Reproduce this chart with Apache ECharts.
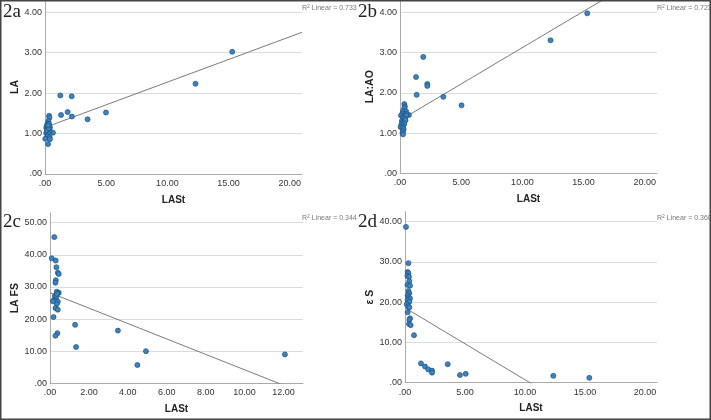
<!DOCTYPE html>
<html>
<head>
<meta charset="utf-8">
<script src="https://cdn.jsdelivr.net/npm/echarts@6/dist/echarts.min.js"></script>
<style>
  html, body { margin: 0; padding: 0; background: #fff; }
  #scatter { width: 711px; height: 420px; }
</style>
</head>
<body>
<div id="scatter"></div>
<script>
// 2a: LASt vs LA
var lastA = [15.3, 12.3, 1.25, 2.18, 1.31, 1.85, 2.2, 3.48, 4.98, 0.65,
  0.33, 0.36, 0.28, 0.2, 0.33, 0.15, 0.28, 0.4, 0.1, 0.2, 0.38, 0.2, 0.33, 0.1, 0.25,
  0.2, 0.38, 0.02, 0.4, 0.25, 0.15, 0.3, 0.25];
var laA = [3.02, 2.23, 1.94, 1.92, 1.46, 1.53, 1.42, 1.35, 1.52, 1.02,
  1.44, 1.39, 1.31, 1.25, 1.24, 1.19, 1.18, 1.16, 1.14, 1.12, 1.10, 1.06, 1.04, 1.01, 1.0,
  0.93, 0.91, 0.87, 0.86, 0.74, 1.08, 1.13, 1.2];

// 2b: LASt vs LA:AO
var lastB = [15.3, 12.3, 1.9, 1.31, 2.23, 2.23, 1.36, 3.54, 5.03, 0.73,
  0.35, 0.4, 0.35, 0.25, 0.5, 0.2, 0.4, 0.55, 0.08, 0.25, 0.45, 0.5, 0.25, 0.38, 0.15,
  0.3, 0.45, 0.2, 0.35, 0.1, 0.25, 0.05, 0.2, 0.3, 0.25, 0.2, 0.25];
var laAoB = [3.97, 3.30, 2.89, 2.39, 2.22, 2.17, 1.95, 1.90, 1.69, 1.45,
  1.72, 1.66, 1.62, 1.55, 1.54, 1.49, 1.48, 1.47, 1.44, 1.42, 1.42, 1.44, 1.37, 1.36, 1.30,
  1.29, 1.32, 1.25, 1.23, 1.20, 1.17, 1.15, 1.13, 1.10, 1.05, 1.0, 0.97];

// 2c: LASt vs LA FS
var lastC = [0.22, 0.09, 0.29, 0.33, 0.4, 0.45, 0.3, 0.28, 0.35, 0.45, 0.4, 0.25, 0.32,
  0.2, 0.28, 0.4, 0.35, 0.28, 0.4, 0.18, 0.38, 0.28, 0.15, 0.35,
  1.29, 1.34, 3.49, 4.49, 4.93, 12.07];
var laFsC = [45.5, 38.9, 38.2, 36.1, 34.4, 34.0, 32.1, 31.3, 28.5, 28.2, 28.0, 27.2, 26.8,
  25.9, 25.7, 25.4, 24.7, 23.4, 22.9, 20.6, 15.6, 14.8, 25.5, 27.8,
  18.2, 11.3, 16.4, 5.7, 10.0, 9.0];

// 2d: LASt vs ε S
var lastD = [0.08, 0.28, 0.22, 0.28, 0.2, 0.33, 0.36, 0.2, 0.42, 0.28, 0.36, 0.22, 0.28,
  0.42, 0.22, 0.36, 0.14, 0.28, 0.36, 0.22, 0.42, 0.36, 0.33, 0.47, 0.75,
  1.33, 1.67, 1.94, 2.25, 2.25, 3.56, 4.58, 5.06, 12.36, 15.36];
var epsSD = [38.7, 29.7, 27.5, 27.2, 26.5, 26.3, 25.2, 24.3, 24.1, 22.8, 22.2, 21.7, 21.2,
  20.9, 20.5, 20.1, 19.5, 19.0, 18.7, 17.5, 16.0, 15.6, 14.6, 14.3, 11.8,
  4.8, 4.0, 3.3, 3.0, 2.5, 4.6, 1.9, 2.2, 1.7, 1.2];

// linear fit lines [intercept, slope] and R2 as printed
var fitA = [1.15, 0.112];
var fitB = [1.32, 0.18];
var fitC = [28.2, -2.40];
var fitD = [18.6, -1.786];
var r2Labels = ['0.733', '0.723', '0.344', '0.360'];

var panelLetters = ['2a', '2b', '2c', '2d'];
var yNames = ['LA', 'LA:AO', 'LA FS', 'ε S'];
var xName = 'LASt';
var xMax = [21, 21, 13, 21];
var xStep = [5, 5, 2, 5];
var yMax = [4.3, 4.3, 53, 42.5];
var yStep = [1, 1, 10, 10];

var font = 'Liberation Sans, Arial, sans-serif';

function tickFmt(v) {
  return v === 0 ? '.00' : v.toFixed(2);
}

function pairs(xs, ys) {
  return xs.map(function (x, i) { return [x, ys[i]]; });
}

var panels = [
  { xs: lastA, ys: laA, fit: fitA, grid: { left: 45, top: 0, width: 257, height: 174 }, gap: 24 },
  { xs: lastB, ys: laAoB, fit: fitB, grid: { left: 400, top: 0, width: 257, height: 173.5 }, gap: 22 },
  { xs: lastC, ys: laFsC, fit: fitC, grid: { left: 50, top: 213, width: 253, height: 170.3 }, gap: 27 },
  { xs: lastD, ys: epsSD, fit: fitD, grid: { left: 405, top: 211.6, width: 252, height: 171.1 }, gap: 29 }
];

var grids = [], xAxes = [], yAxes = [], series = [], graphics = [];

panels.forEach(function (p, i) {
  grids.push(p.grid);
  xAxes.push({
    type: 'value',
    gridIndex: i,
    min: 0,
    max: xMax[i],
    interval: xStep[i],
    name: xName,
    nameLocation: 'middle',
    nameGap: 21,
    nameTextStyle: { fontFamily: font, fontSize: 10, fontWeight: 'bold', color: '#222' },
    axisLine: { lineStyle: { color: '#aaa', width: 1 } },
    axisTick: { show: false },
    splitLine: { show: false },
    axisLabel: {
      formatter: tickFmt, showMaxLabel: false, margin: 5,
      fontFamily: font, fontSize: 9, color: '#333'
    }
  });
  yAxes.push({
    type: 'value',
    gridIndex: i,
    min: 0,
    max: yMax[i],
    interval: yStep[i],
    name: yNames[i],
    nameLocation: 'middle',
    nameGap: p.gap,
    nameTextStyle: { fontFamily: font, fontSize: 10.5, fontWeight: 'bold', color: '#222' },
    axisLine: { show: true, lineStyle: { color: '#aaa', width: 1 } },
    axisTick: { show: false },
    splitLine: { show: true, showMaxLine: false, lineStyle: { color: '#dcdcdc', width: 1 } },
    axisLabel: {
      formatter: tickFmt, showMaxLabel: false, margin: 3,
      fontFamily: font, fontSize: 9, color: '#333'
    }
  });
  series.push({
    type: 'line',
    xAxisIndex: i,
    yAxisIndex: i,
    data: [[0, p.fit[0]], [xMax[i], p.fit[0] + p.fit[1] * xMax[i]]],
    symbol: 'none',
    clip: true,
    silent: true,
    lineStyle: { color: '#7a7a7a', width: 1 },
    z: 1
  });
  series.push({
    type: 'scatter',
    xAxisIndex: i,
    yAxisIndex: i,
    data: pairs(p.xs, p.ys),
    symbolSize: 5,
    itemStyle: { color: '#3b84c4', borderColor: '#1d4e7a', borderWidth: 0.7, opacity: 1 },
    z: 3
  });

  var ox = i % 2 === 0 ? 0 : 355;
  var oy = i < 2 ? 0 : 210;
  graphics.push({
    type: 'text',
    left: ox + 3,
    top: oy + 3,
    style: { text: panelLetters[i], font: '19px "Liberation Serif", "Times New Roman", serif', fill: '#222' }
  });
  graphics.push({
    type: 'text',
    left: ox + 302,
    top: oy + 4,
    style: {
      text: '{r|R}{s|2}{r| Linear = ' + r2Labels[i] + '}',
      rich: {
        r: { fontFamily: font, fontSize: 7, fill: '#777', verticalAlign: 'bottom' },
        s: { fontFamily: font, fontSize: 5, fill: '#777', verticalAlign: 'top', padding: [0, 0, 3, 0] }
      }
    }
  });
});

// outer frame
graphics.push({
  type: 'rect',
  shape: { x: 0.75, y: 0.75, width: 709.5, height: 418.5 },
  style: { fill: 'none', stroke: '#444', lineWidth: 1.5 },
  z: 10
});

var chart = echarts.init(document.getElementById('scatter'), null, { renderer: 'canvas' });
chart.setOption({
  animation: false,
  backgroundColor: '#fff',
  grid: grids,
  xAxis: xAxes,
  yAxis: yAxes,
  series: series,
  graphic: graphics
});
</script>
</body>
</html>
